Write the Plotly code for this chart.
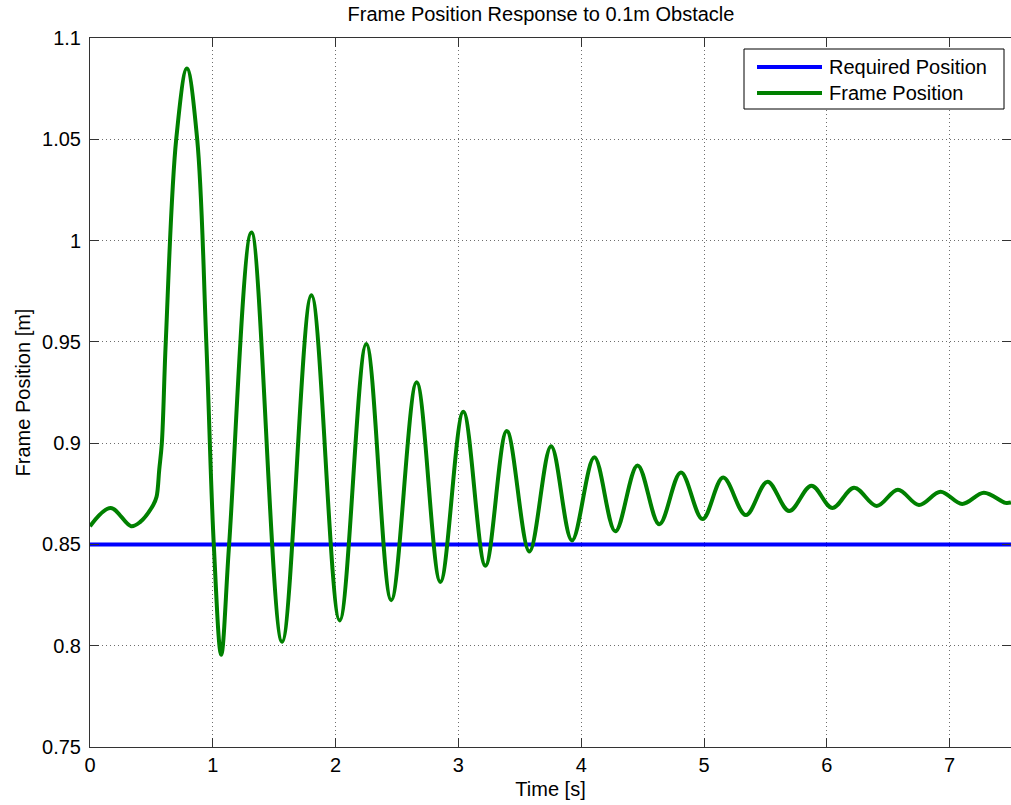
import plotly.graph_objects as go

# ---- data ----
time_s = [0.0, 0.168, 0.335, 0.407, 0.515, 0.542, 0.564, 0.585, 0.617, 0.702,
          0.789, 0.873, 0.947, 1.008, 1.068, 1.133,
          1.315, 1.564, 1.803, 2.033, 2.250, 2.453, 2.660, 2.853, 3.040, 3.220,
          3.394, 3.578, 3.755, 3.925, 4.107, 4.278, 4.459, 4.636, 4.812, 4.988,
          5.156, 5.341, 5.517, 5.693, 5.875, 6.045, 6.222, 6.406, 6.579, 6.750,
          6.926, 7.102, 7.279, 7.455, 7.5]
frame_pos = [0.859, 0.868, 0.859, 0.861, 0.8695, 0.8735, 0.887, 0.9, 0.95, 1.05,
             1.085, 1.05, 0.95, 0.85, 0.7955, 0.85,
             1.004, 0.802, 0.973, 0.8125, 0.949, 0.8225, 0.930, 0.8315, 0.9155, 0.8395,
             0.906, 0.8465, 0.8985, 0.852, 0.893, 0.8565, 0.889, 0.860, 0.8855, 0.8625,
             0.883, 0.8645, 0.881, 0.8665, 0.879, 0.868, 0.878, 0.869, 0.877, 0.8695,
             0.876, 0.870, 0.8755, 0.8705, 0.8707]
req_time = [0.0, 7.5]
req_pos = [0.85, 0.85]

series_names = ["Required Position", "Frame Position"]
series_colors = ["#0000FF", "#008000"]

x_ticks = [0, 1, 2, 3, 4, 5, 6, 7]
y_ticks = [0.75, 0.8, 0.85, 0.9, 0.95, 1.0, 1.05, 1.1]
y_ticktext = ["0.75", "0.8", "0.85", "0.9", "0.95", "1", "1.05", "1.1"]

FONT = "Liberation Sans, Arial, Helvetica, sans-serif"

fig = go.Figure()
fig.add_trace(go.Scatter(x=req_time, y=req_pos, mode="lines", name=series_names[0],
                         line=dict(color=series_colors[0], width=4), showlegend=False))
fig.add_trace(go.Scatter(x=time_s, y=frame_pos, mode="lines", name=series_names[1],
                         line=dict(color=series_colors[1], width=4, shape="spline", smoothing=1.0),
                         showlegend=False))

W, H = 1011, 805
L, R, T, B = 90, 0, 38, 58
pw, ph = W - L - R, H - T - B

def px(xp):
    return (xp - L) / pw

def py(yp):
    return (H - B - yp) / ph

axis_common = dict(
    showline=True, linecolor="#333333", linewidth=1, mirror="ticks",
    ticks="inside", ticklen=9, tickcolor="#333333", tickwidth=1,
    showgrid=True, gridcolor="#6e6e6e", gridwidth=1, griddash="1px,3px",
    zeroline=False, tickfont=dict(family=FONT, size=20, color="black"),
)

fig.update_xaxes(range=[0, 7.5], tickvals=x_ticks, ticktext=[str(v) for v in x_ticks],
                 title=dict(text="Time [s]", font=dict(family=FONT, size=20, color="black"), standoff=6),
                 **axis_common)
fig.update_yaxes(range=[0.75, 1.1], tickvals=y_ticks, ticktext=y_ticktext,
                 title=dict(text="Frame Position [m]", font=dict(family=FONT, size=20, color="black"), standoff=6),
                 ticklabelstandoff=4,
                 **axis_common)

# manual MATLAB-style legend
shapes = [dict(type="rect", xref="paper", yref="paper", x0=px(744), x1=px(1004), y0=py(109), y1=py(49),
               line=dict(color="black", width=1), fillcolor="white", layer="above")]
annotations = []
for i, (nm, col) in enumerate(zip(series_names, series_colors)):
    yy = 67 + 26 * i
    shapes.append(dict(type="line", xref="paper", yref="paper", x0=px(757), x1=px(822), y0=py(yy), y1=py(yy),
                       line=dict(color=col, width=4), layer="above"))
    annotations.append(dict(xref="paper", yref="paper", x=px(827), y=py(yy), xanchor="left", yanchor="middle",
                            text=nm, showarrow=False, font=dict(family=FONT, size=20, color="black")))

fig.update_layout(
    width=W, height=H,
    margin=dict(l=L, r=R, t=T, b=B, pad=0),
    paper_bgcolor="white", plot_bgcolor="white",
    title=dict(text="Frame Position Response to 0.1m Obstacle", x=px(541), xref="paper",
               y=1 - 14 / H, yref="container", yanchor="middle", xanchor="center",
               font=dict(family=FONT, size=20, color="black")),
    shapes=shapes, annotations=annotations,
    showlegend=False,
)

fig.write_html("out.html")
